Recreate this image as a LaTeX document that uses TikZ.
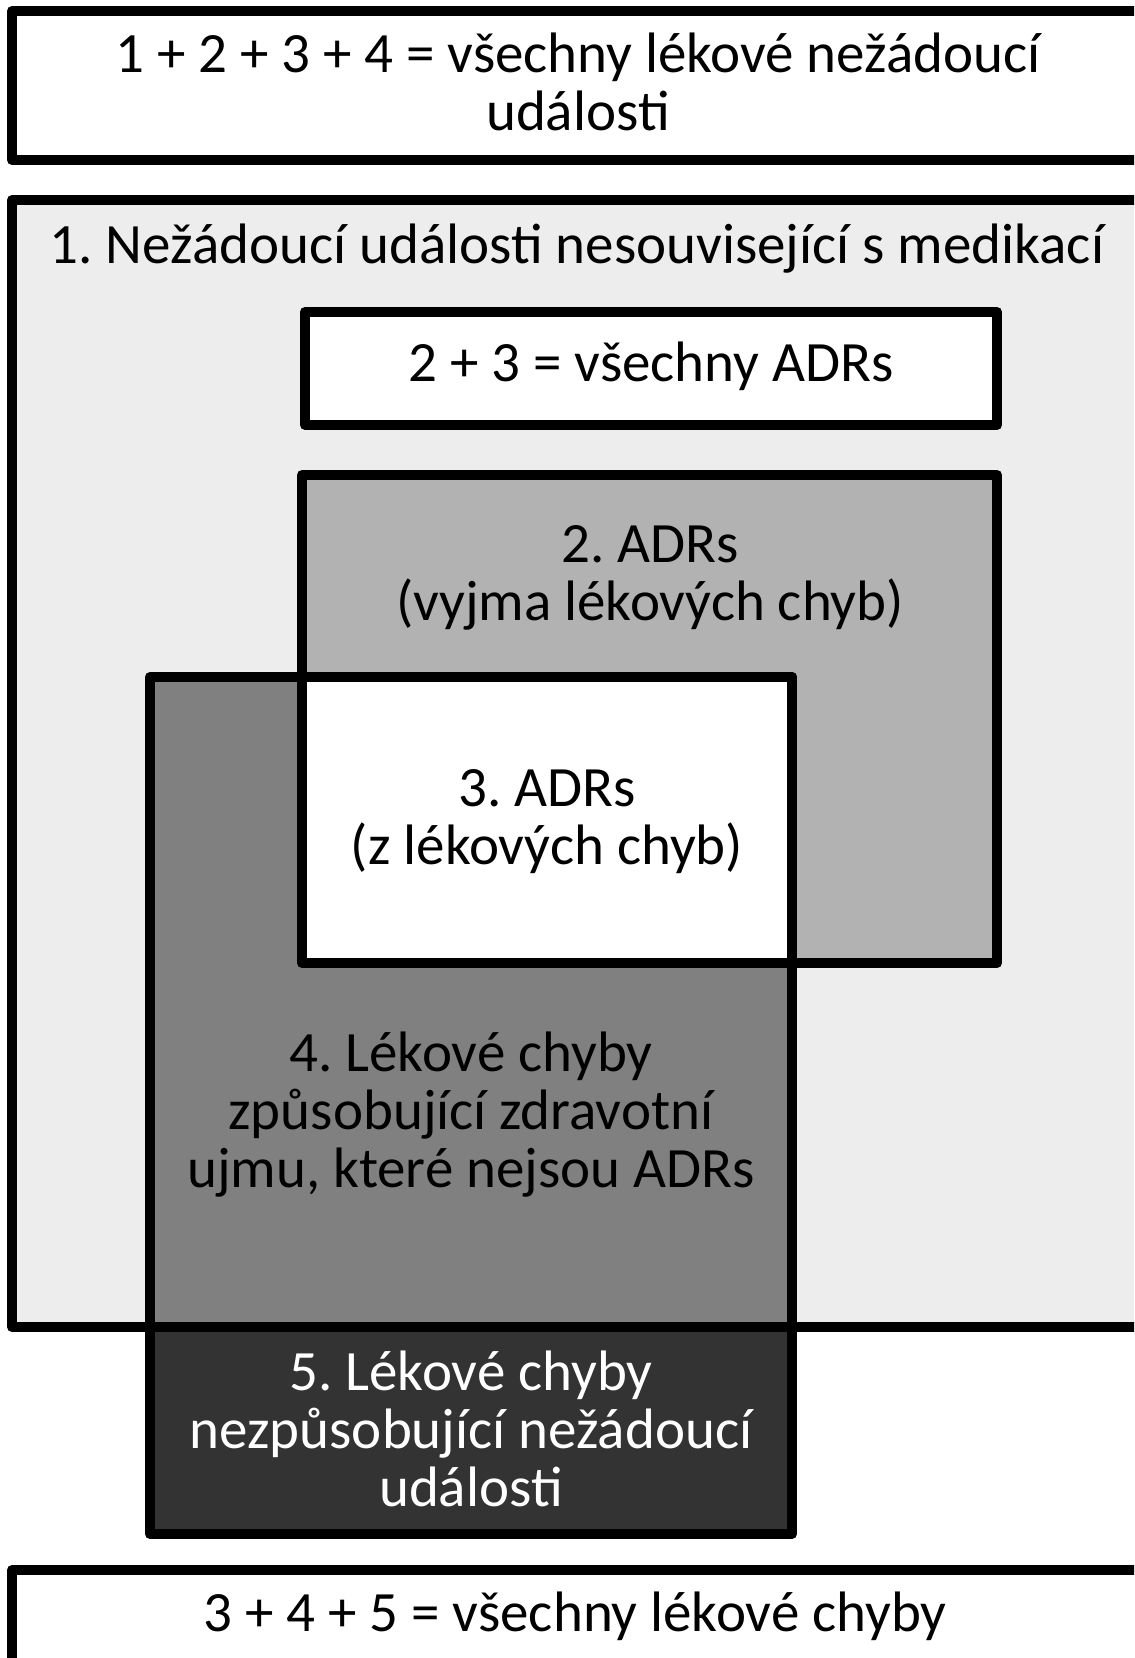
\documentclass[tikz,border=0pt]{standalone}
\usepackage{fontspec}
\setmainfont{Carlito}
\frenchspacing
\definecolor{fillone}{gray}{0.93}
\definecolor{filltwo}{gray}{0.70}
\definecolor{fillfour}{gray}{0.50}
\definecolor{fillfive}{gray}{0.20}
\tikzset{
  box/.style={draw=black, line width=5pt, line join=round},
  lbl/.style={align=center, font=\fontsize{28.5}{29}\selectfont},
}
\begin{document}
\begin{tikzpicture}[x=0.5pt, y=-0.5pt]
\useasboundingbox (0,0) rectangle (1134,1658);
\clip (0,0) rectangle (1134,1658);
% sums
\draw[box, fill=white] (12,11) rectangle (1146,160);
\node[lbl] (allade) at (578,82) {1 + 2 + 3 + 4 = všechny lékové nežádoucí\\události};
\draw[box, fill=white] (12,1570) rectangle (1146,1700);
\node[lbl] (allme) at (575,1616) {3 + 4 + 5 = všechny lékové chyby};
% 1
\draw[box, fill=fillone] (12,200) rectangle (1146,1327);
\node[lbl] (one) at (577,249) {1. Nežádoucí události nesouvisející s medikací};
\draw[box, fill=white] (305,312) rectangle (997,425);
\node[lbl] (alladr) at (651,366) {2 + 3 = všechny ADRs};
% 2, 4, 5 and 3
\draw[box, fill=filltwo] (302,475) rectangle (997,963);
\node[lbl] (two) at (650,578) {2. ADRs\\(vyjma lékových chyb)};
\draw[box, fill=fillfour] (150,677) rectangle (792,1327);
\node[lbl] (four) at (471,1115) {4. Lékové chyby\\způsobující zdravotní\\ujmu, které nejsou ADRs};
\draw[box, fill=fillfive] (150,1327) rectangle (792,1534);
\node[lbl, text=white] (five) at (471,1429) {5. Lékové chyby\\nezpůsobující nežádoucí\\události};
\draw[box, fill=white] (302,677) rectangle (792,963);
\node[lbl] (three) at (547,822) {3. ADRs\\(z lékových chyb)};
\end{tikzpicture}
\end{document}
